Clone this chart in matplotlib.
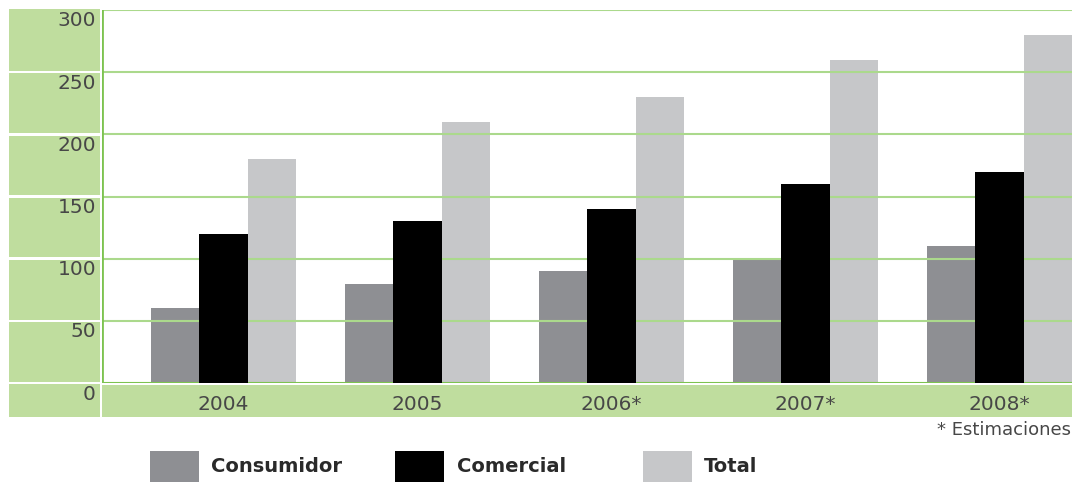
import matplotlib
matplotlib.use("Agg")
import matplotlib.pyplot as plt
from matplotlib.patches import Rectangle

# Data
years = ["2004", "2005", "2006*", "2007*", "2008*"]
consumidor = [60, 80, 90, 100, 110]
comercial = [120, 130, 140, 160, 170]
total = [180, 210, 230, 260, 280]
y_ticks = [0, 50, 100, 150, 200, 250, 300]
series_names = ["Consumidor", "Comercial", "Total"]

W, H = 1075, 482
GREEN_PANEL = "#bfdd9e"
GREEN_GRID = "#abd98c"
GREEN_AXIS = "#7dc350"
C_CONS = "#8e8f93"
C_COM = "#000000"
C_TOT = "#c6c7c9"
TEXT = "#474747"

fig = plt.figure(figsize=(W / 100, H / 100), dpi=100)
fig.patch.set_facecolor("white")


def fx(px):
    return px / W


def fy(py):
    return 1 - py / H


# Plot area in pixel terms
left, right, top, base = 102, 1072, 10, 383
ax = fig.add_axes([fx(left), fy(base), fx(right) - fx(left), fy(top) - fy(base)])
ax.set_xlim(0, len(years))
ax.set_ylim(0, 300)
ax.axis("off")

bw = 0.25
xs = list(range(len(years)))
ax.bar([x + bw for x in xs], consumidor, width=bw, align="edge", color=C_CONS, zorder=1)
ax.bar([x + 2 * bw for x in xs], comercial, width=bw, align="edge", color=C_COM, zorder=3)
ax.bar([x + 3 * bw for x in xs], total, width=bw, align="edge", color=C_TOT, zorder=1)

for t in y_ticks[1:]:
    ax.axhline(t, color=GREEN_GRID, lw=1.5, zorder=2)
ax.axhline(0, color=GREEN_AXIS, lw=1.5, zorder=2)
ax.axvline(0, color=GREEN_AXIS, lw=2, zorder=4)

# Bottom category band
band_top, band_bot = 384.5, 417
fig.patches.append(Rectangle((fx(left), fy(band_bot)), fx(right) - fx(left),
                             fy(band_top) - fy(band_bot), transform=fig.transFigure,
                             facecolor=GREEN_PANEL, edgecolor="none", zorder=0))
for i, yr in enumerate(years):
    xc = ax.transData.transform((i + 2.5 * bw, 0))[0]
    fig.text(xc / W, fy(404), yr, ha="center", va="center", fontsize=14.5, color=TEXT)

# Left value panel, one cell per interval with the tick label at its top
panel_l, panel_r = 9, 100
step_px = (base - top) / (len(y_ticks) - 1)
for t in y_ticks:
    ypx = base - (base - top) * t / 300.0
    cell_top = ypx + 1.2
    cell_bot = ypx + step_px - 1.2 if t > 0 else band_bot
    if t == 300:
        cell_top = top - 1
    fig.patches.append(Rectangle((fx(panel_l), fy(cell_bot)), fx(panel_r) - fx(panel_l),
                                 fy(cell_top) - fy(cell_bot), transform=fig.transFigure,
                                 facecolor=GREEN_PANEL, edgecolor="none", zorder=0))
    fig.text(fx(96), fy(ypx + 11), str(t), ha="right", va="center", fontsize=14.5, color=TEXT)

fig.text(fx(1071), fy(430), "* Estimaciones", ha="right", va="center", fontsize=13, color=TEXT)

# Legend
colors = [C_CONS, C_COM, C_TOT]
sq_x = [150, 395, 643]
txt_x = [211, 457, 704]
for name, c, sx, tx in zip(series_names, colors, sq_x, txt_x):
    fig.patches.append(Rectangle((fx(sx), fy(490)), fx(49), fy(451) - fy(490),
                                 transform=fig.transFigure, facecolor=c,
                                 edgecolor="none"))
    fig.text(fx(tx), fy(467), name, ha="left", va="center", fontsize=14,
             fontweight="bold", color="#2a2a2a")

fig.savefig("out.png", dpi=100)
